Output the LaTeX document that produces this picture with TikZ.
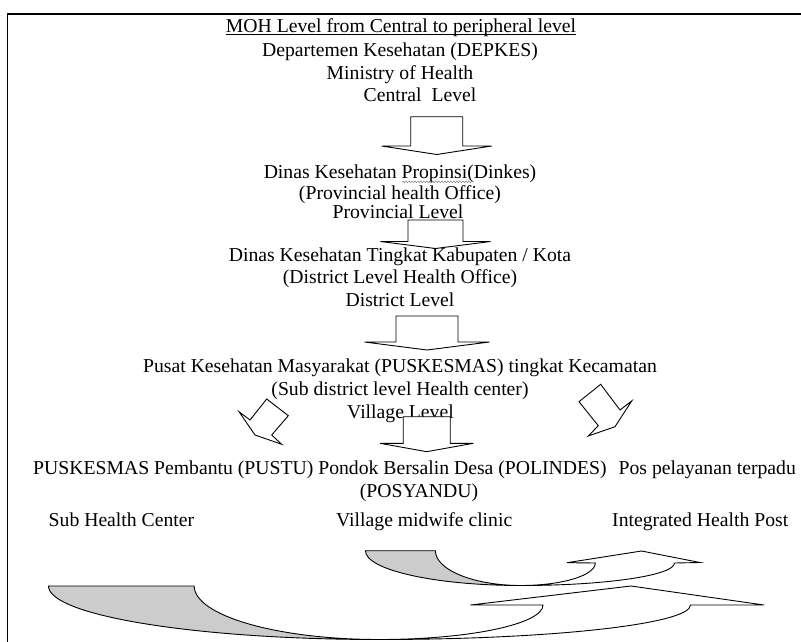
\documentclass[tikz,border=0pt]{standalone}
\usepackage{fontspec}
\setmainfont{Liberation Serif}
\usetikzlibrary{decorations.pathmorphing}
\newcommand\fatdown[6]{%
  \draw[fatarrow] ({#1-#3/2},#2) -- ({#1+#3/2},#2) -- ({#1+#3/2},{#2+#4}) -- ({#1+#5/2},{#2+#4})
    -- (#1,{#2+#4+#6}) -- ({#1-#5/2},{#2+#4}) -- ({#1-#3/2},{#2+#4}) -- cycle;}
\begin{document}
\begin{tikzpicture}[x=1pt,y=-1pt,
  txt/.style={font=\fontsize{19.7pt}{23pt}\selectfont, inner sep=0pt, anchor=base},
  fatarrow/.style={draw=black, line width=0.9pt, fill=white, line join=miter},
  backfill/.style={draw=black, line width=0.9pt, fill=black!20},
  frontfill/.style={draw=black, line width=0.9pt, fill=white}
]
\useasboundingbox (0,0) rectangle (801,642);
\draw[line width=1.3pt] (7.5,642) -- (7.5,14) -- (801,14);

% top group
\node[txt] (title) at (401,33) {MOH Level from Central to peripheral level};
\draw[line width=0.8pt] ([yshift=-1.8pt]title.base west) -- ([yshift=-1.8pt]title.base east);
\node[txt] (depkes) at (400,57) {Departemen Kesehatan (DEPKES)};
\node[txt] (moh) at (400,79.5) {Ministry of Health};
\node[txt] (central) at (420,102) {Central\ \ Level};
\fatdown{436.7}{116.7}{52}{29.3}{110}{8.5}

% provincial
\node[txt] (dinkes) at (400,178) {Dinas Kesehatan Propinsi(Dinkes)};
\draw[black!45, line width=0.6pt, decorate, decoration={snake, amplitude=0.9pt, segment length=3pt}]
  (402,181.8) -- (474,181.8);
\node[txt] (pho) at (400,199) {(Provincial health Office)};
\node[txt] (provlvl) at (398,218) {Provincial Level};
\fatdown{435.5}{220}{55}{21.5}{110}{7}

% district
\node[txt] (kab) at (400,261) {Dinas Kesehatan Tingkat Kabupaten / Kota};
\node[txt] (dlho) at (400,283.5) {(District Level Health Office)};
\node[txt] (dlvl) at (400,306) {District Level};
\fatdown{427}{316}{62}{26}{125}{8}

% sub district
\node[txt] (pusk) at (400,372) {Pusat Kesehatan Masyarakat (PUSKESMAS) tingkat Kecamatan};
\node[txt] (sdhc) at (400,395) {(Sub district level Health center)};
\node[txt] (vlvl) at (400.5,418) {Village Level};
\fatdown{426.7}{416.7}{47}{26.6}{93.3}{8.4}

% diagonal arrows
\draw[fatarrow] (266.7,399) -- (288.3,415.7) -- (271.7,435) -- (281.7,444.3) -- (255,435)
  -- (239,411.7) -- (250,420) -- cycle;
\draw[fatarrow] (600.7,384.3) -- (620,410) -- (631.7,401) -- (615,426.7) -- (588.3,436)
  -- (598.3,425.7) -- (579,401.7) -- cycle;

% village level texts
\node[txt, anchor=base west] (vill) at (33,474) {PUSKESMAS Pembantu (PUSTU) Pondok Bersalin Desa (POLINDES)\hspace{12pt}Pos pelayanan terpadu};
\node[txt] (posy) at (419,497) {(POSYANDU)};
\node[txt, anchor=base west] (shc) at (48.5,526) {Sub Health Center};
\node[txt, anchor=base west] (vmc) at (336,526) {Village midwife clinic};
\node[txt, anchor=base west] (ihp) at (612,526) {Integrated Health Post};

% small curved arrow
\draw[backfill] (365.4,550.7) .. controls (365.4,569.9) and (435.1,585.5) .. (521,585.5)
  .. controls (473.7,585.5) and (435.4,569.9) .. (435.4,550.7) -- cycle;
\draw[frontfill] (521,585.5) .. controls (605.8,585.5) and (674.5,575.4) .. (674.5,563)
  -- (700,562.5) -- (641.5,551) -- (567,562.7) -- (595.3,563)
  .. controls (595.3,575.4) and (562,585.5) .. (521,585.5) -- cycle;

% large curved arrow
\draw[backfill] (48.5,586) .. controls (48.5,615.5) and (196.5,639.5) .. (379,639.5)
  .. controls (276.9,639.5) and (194.2,615.5) .. (194.2,586) -- cycle;
\draw[frontfill] (379,639.5) .. controls (551,639.5) and (690.5,624) .. (690.5,605)
  -- (764,605) -- (631,586) -- (470.5,605) -- (543,605)
  .. controls (543,624) and (469.6,639.5) .. (379,639.5) -- cycle;
\end{tikzpicture}
\end{document}
